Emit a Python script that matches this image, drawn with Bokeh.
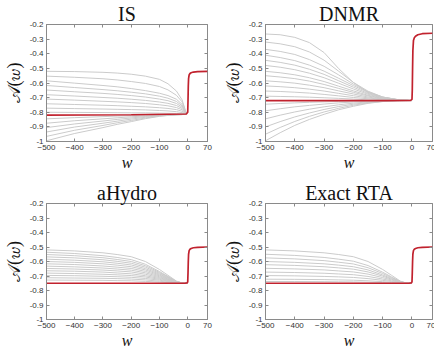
from bokeh.plotting import figure
from bokeh.layouts import gridplot
from bokeh.models import FixedTicker, LinearAxis
from bokeh.embed import file_html
from bokeh.resources import INLINE

panel_titles = ["IS", "DNMR", "aHydro", "Exact RTA"]
x_ticks = [-500, -400, -300, -200, -100, 0, 70]
y_ticks = [-1.0, -0.9, -0.8, -0.7, -0.6, -0.5, -0.4, -0.3, -0.2]
y_tick_labels = ["-1", "-0.9", "-0.8", "-0.7", "-0.6", "-0.5", "-0.4", "-0.3", "-0.2"]
x_label = "w"
y_label = "\U0001D49C(\U0001D464)"

# ---------------- IS ----------------
w_is = [-500, -400, -300, -250, -200, -150, -100, -70, -40, -20, -5]
is_gray = [
    [-0.52, -0.522, -0.527, -0.532, -0.54, -0.553, -0.575, -0.605, -0.655, -0.715, -0.806],
    [-0.553, -0.561, -0.571, -0.579, -0.59, -0.603, -0.624, -0.647, -0.684, -0.729, -0.807],
    [-0.585, -0.601, -0.617, -0.626, -0.638, -0.652, -0.67, -0.686, -0.711, -0.746, -0.808],
    [-0.617, -0.631, -0.645, -0.653, -0.663, -0.674, -0.69, -0.704, -0.726, -0.756, -0.809],
    [-0.648, -0.66, -0.671, -0.678, -0.686, -0.696, -0.71, -0.721, -0.74, -0.765, -0.81],
    [-0.68, -0.689, -0.699, -0.704, -0.711, -0.719, -0.73, -0.739, -0.754, -0.774, -0.811],
    [-0.71, -0.717, -0.725, -0.729, -0.734, -0.74, -0.749, -0.756, -0.768, -0.783, -0.812],
    [-0.742, -0.747, -0.752, -0.755, -0.759, -0.763, -0.769, -0.774, -0.782, -0.793, -0.812],
    [-0.772, -0.775, -0.778, -0.78, -0.782, -0.784, -0.788, -0.791, -0.796, -0.802, -0.812],
    [-0.80, -0.801, -0.802, -0.803, -0.804, -0.804, -0.806, -0.807, -0.808, -0.81, -0.812],
    [-0.845, -0.837, -0.83, -0.826, -0.823, -0.82, -0.817, -0.816, -0.815, -0.814, -0.812],
    [-0.875, -0.858, -0.845, -0.838, -0.831, -0.825, -0.819, -0.817, -0.816, -0.815, -0.812],
    [-0.905, -0.88, -0.86, -0.849, -0.839, -0.829, -0.821, -0.819, -0.816, -0.815, -0.812],
    [-0.935, -0.901, -0.875, -0.861, -0.847, -0.834, -0.823, -0.82, -0.817, -0.816, -0.812],
    [-0.965, -0.923, -0.89, -0.872, -0.856, -0.839, -0.826, -0.821, -0.817, -0.816, -0.812],
    [-0.995, -0.945, -0.905, -0.883, -0.864, -0.844, -0.828, -0.822, -0.818, -0.816, -0.812],
]
w_is_red = [-500, -200, -5, 0, 1, 2, 3, 5, 8, 12, 20, 35, 70]
is_red = [-0.82, -0.817, -0.812, -0.80, -0.72, -0.62, -0.57, -0.545, -0.535, -0.53, -0.525, -0.522, -0.52]

# ---------------- DNMR ----------------
w_dn = [-500, -450, -400, -350, -300, -250, -200, -150, -100, -50, 0]
dn_gray = [
    [-0.265, -0.27, -0.288, -0.324, -0.392, -0.502, -0.597, -0.665, -0.697, -0.713, -0.72],
    [-0.32, -0.332, -0.352, -0.388, -0.444, -0.52, -0.596, -0.656, -0.696, -0.714, -0.72],
    [-0.37, -0.384, -0.405, -0.44, -0.486, -0.545, -0.608, -0.66, -0.696, -0.713, -0.72],
    [-0.41, -0.426, -0.447, -0.478, -0.519, -0.568, -0.618, -0.664, -0.698, -0.714, -0.72],
    [-0.445, -0.459, -0.478, -0.506, -0.541, -0.585, -0.629, -0.671, -0.701, -0.715, -0.72],
    [-0.48, -0.492, -0.509, -0.533, -0.564, -0.602, -0.641, -0.677, -0.703, -0.715, -0.72],
    [-0.52, -0.53, -0.544, -0.564, -0.59, -0.622, -0.654, -0.684, -0.706, -0.716, -0.72],
    [-0.55, -0.559, -0.57, -0.587, -0.61, -0.637, -0.664, -0.689, -0.708, -0.717, -0.72],
    [-0.585, -0.592, -0.601, -0.615, -0.632, -0.654, -0.675, -0.696, -0.711, -0.717, -0.72],
    [-0.62, -0.625, -0.632, -0.642, -0.655, -0.671, -0.687, -0.702, -0.713, -0.718, -0.72],
    [-0.655, -0.658, -0.663, -0.669, -0.678, -0.688, -0.699, -0.708, -0.715, -0.719, -0.72],
    [-0.69, -0.692, -0.694, -0.697, -0.701, -0.705, -0.71, -0.715, -0.718, -0.72, -0.72],
    [-0.745, -0.74, -0.736, -0.732, -0.729, -0.726, -0.724, -0.722, -0.721, -0.72, -0.72],
    [-0.79, -0.776, -0.763, -0.753, -0.744, -0.736, -0.73, -0.725, -0.722, -0.72, -0.72],
    [-0.845, -0.82, -0.798, -0.779, -0.763, -0.749, -0.738, -0.729, -0.723, -0.721, -0.72],
    [-0.9, -0.864, -0.832, -0.805, -0.781, -0.761, -0.745, -0.733, -0.725, -0.721, -0.72],
    [-0.95, -0.904, -0.863, -0.828, -0.798, -0.773, -0.752, -0.736, -0.726, -0.721, -0.72],
    [-0.995, -0.94, -0.89, -0.849, -0.814, -0.783, -0.759, -0.739, -0.727, -0.721, -0.72],
]
w_dn_red = [-500, -100, -5, 0, 1, 2, 3, 5, 8, 12, 20, 35, 70]
dn_red = [-0.72, -0.72, -0.719, -0.712, -0.65, -0.5, -0.38, -0.31, -0.29, -0.28, -0.27, -0.263, -0.26]

# ---------------- aHydro ----------------
w_ah = [-500, -400, -300, -250, -200, -150, -100, -70, -40, -20, 0]
ah_gray = [
    [-0.52, -0.527, -0.54, -0.552, -0.567, -0.6, -0.655, -0.695, -0.735, -0.748, -0.75],
    [-0.536, -0.545, -0.56, -0.572, -0.587, -0.619, -0.669, -0.703, -0.737, -0.748, -0.75],
    [-0.552, -0.56, -0.574, -0.586, -0.6, -0.629, -0.675, -0.706, -0.738, -0.748, -0.75],
    [-0.568, -0.575, -0.588, -0.599, -0.612, -0.639, -0.681, -0.71, -0.739, -0.748, -0.75],
    [-0.584, -0.591, -0.602, -0.612, -0.624, -0.649, -0.687, -0.713, -0.74, -0.748, -0.75],
    [-0.6, -0.606, -0.616, -0.625, -0.636, -0.658, -0.693, -0.717, -0.741, -0.749, -0.75],
    [-0.616, -0.621, -0.631, -0.639, -0.648, -0.668, -0.699, -0.721, -0.742, -0.749, -0.75],
    [-0.632, -0.637, -0.645, -0.652, -0.66, -0.678, -0.705, -0.724, -0.743, -0.749, -0.75],
    [-0.648, -0.652, -0.659, -0.665, -0.672, -0.688, -0.711, -0.728, -0.744, -0.749, -0.75],
    [-0.664, -0.667, -0.673, -0.679, -0.685, -0.698, -0.717, -0.731, -0.745, -0.749, -0.75],
    [-0.68, -0.683, -0.688, -0.692, -0.697, -0.707, -0.723, -0.735, -0.746, -0.749, -0.75],
    [-0.696, -0.698, -0.702, -0.705, -0.709, -0.717, -0.729, -0.738, -0.747, -0.75, -0.75],
    [-0.712, -0.714, -0.716, -0.718, -0.721, -0.727, -0.736, -0.742, -0.748, -0.75, -0.75],
    [-0.728, -0.729, -0.73, -0.732, -0.733, -0.737, -0.742, -0.745, -0.749, -0.75, -0.75],
]
w_ah_red = [-500, -10, -2, 0, 1, 2, 3, 5, 8, 12, 20, 35, 70]
ah_red = [-0.75, -0.75, -0.748, -0.74, -0.68, -0.6, -0.55, -0.525, -0.515, -0.51, -0.505, -0.502, -0.5]

# ---------------- Exact RTA ----------------
w_rta = [-500, -400, -300, -250, -200, -150, -100, -70, -40, -20, 0]
rta_gray = [
    [-0.52, -0.527, -0.54, -0.552, -0.567, -0.6, -0.655, -0.695, -0.735, -0.748, -0.75],
    [-0.55, -0.558, -0.572, -0.584, -0.598, -0.628, -0.674, -0.706, -0.738, -0.748, -0.75],
    [-0.575, -0.582, -0.594, -0.605, -0.617, -0.643, -0.683, -0.711, -0.739, -0.748, -0.75],
    [-0.6, -0.606, -0.616, -0.625, -0.636, -0.658, -0.693, -0.717, -0.741, -0.749, -0.75],
    [-0.622, -0.627, -0.636, -0.644, -0.653, -0.672, -0.701, -0.722, -0.742, -0.749, -0.75],
    [-0.647, -0.651, -0.658, -0.665, -0.672, -0.687, -0.711, -0.727, -0.744, -0.749, -0.75],
    [-0.673, -0.676, -0.681, -0.686, -0.691, -0.703, -0.721, -0.733, -0.745, -0.75, -0.75],
    [-0.697, -0.699, -0.703, -0.706, -0.71, -0.718, -0.73, -0.738, -0.747, -0.75, -0.75],
    [-0.722, -0.723, -0.725, -0.727, -0.729, -0.733, -0.739, -0.744, -0.748, -0.75, -0.75],
    [-0.738, -0.738, -0.739, -0.74, -0.741, -0.743, -0.745, -0.747, -0.749, -0.75, -0.75],
]
w_rta_red = [-500, -10, -2, 0, 1, 2, 3, 5, 8, 12, 20, 35, 70]
rta_red = [-0.75, -0.75, -0.748, -0.74, -0.68, -0.6, -0.55, -0.525, -0.515, -0.51, -0.505, -0.502, -0.5]

GRAY = "#cbcbcb"
RED = "#c1222e"
AXC = "#8a8a8a"
TXT = "#333333"


def make_panel(title, wg, grays, wr, red, b_left, f_width, b_right, b_top, b_bottom, f_height):
    p = figure(frame_width=f_width, frame_height=f_height,
               x_range=(-500, 70), y_range=(-1, -0.2),
               output_backend="svg", toolbar_location=None,
               min_border_left=b_left, min_border_right=b_right,
               min_border_top=b_top, min_border_bottom=b_bottom)
    p.title.text = title
    p.title.align = "center"
    p.title.text_font = "Liberation Serif"
    p.title.text_font_size = "20px"
    p.title.text_font_style = "normal"
    p.title.text_color = "#111111"
    p.title.standoff = 0
    p.title.text_line_height = 0.9
    p.grid.visible = False
    p.outline_line_color = AXC
    p.outline_line_width = 1

    for ys in grays:
        p.line(wg, ys, line_color=GRAY, line_width=1)
    p.line(wr, red, line_color=RED, line_width=1.7)

    p.xaxis.ticker = FixedTicker(ticks=x_ticks)
    p.yaxis.ticker = FixedTicker(ticks=y_ticks)
    p.yaxis.major_label_overrides = {t: l for t, l in zip(y_ticks, y_tick_labels)}
    for ax in (p.xaxis[0], p.yaxis[0]):
        ax.axis_line_color = AXC
        ax.major_tick_line_color = AXC
        ax.major_tick_in = 3
        ax.major_tick_out = 0
        ax.minor_tick_line_color = None
        ax.major_label_text_font = "Liberation Sans"
        ax.major_label_text_font_size = "8px"
        ax.major_label_text_color = TXT
        ax.major_label_standoff = 3
        ax.axis_label_text_font = "Liberation Serif"
        ax.axis_label_text_font_style = "italic"
        ax.axis_label_text_color = "#111111"
        ax.axis_label_text_line_height = 0.8
    p.xaxis.axis_label = x_label
    p.xaxis.axis_label_text_font_size = "16px"
    p.xaxis.axis_label_standoff = 1
    p.yaxis.axis_label = y_label
    p.yaxis.axis_label_text_font_size = "18px"
    p.yaxis.axis_label_text_font_style = "normal"
    p.yaxis.axis_label_standoff = 3

    ra = LinearAxis(ticker=FixedTicker(ticks=y_ticks),
                    major_label_overrides={t: "" for t in y_ticks},
                    major_label_text_color=None,
                    major_tick_in=3, major_tick_out=0, axis_line_color=None,
                    major_tick_line_color=AXC, minor_tick_line_color=None,
                    major_label_standoff=0)
    ta = LinearAxis(ticker=FixedTicker(ticks=x_ticks),
                    major_label_overrides={t: "" for t in x_ticks},
                    major_label_text_color=None,
                    major_tick_in=3, major_tick_out=0, axis_line_color=None,
                    major_tick_line_color=AXC, minor_tick_line_color=None,
                    major_label_standoff=0)
    p.add_layout(ra, "right")
    p.add_layout(ta, "above")
    return p


p1 = make_panel(panel_titles[0], w_is, is_gray, w_is_red, is_red, 41, 161, 12, 22, 31, 117)
p2 = make_panel(panel_titles[1], w_dn, dn_gray, w_dn_red, dn_red, 42, 167, 3, 22, 31, 117)
p3 = make_panel(panel_titles[2], w_ah, ah_gray, w_ah_red, ah_red, 41, 161, 12, 30, 28, 116)
p4 = make_panel(panel_titles[3], w_rta, rta_gray, w_rta_red, rta_red, 42, 167, 3, 30, 28, 116)

grid = gridplot([[p1, p2], [p3, p4]], toolbar_location=None)

open("out.html", "w").write(file_html(grid, INLINE))
